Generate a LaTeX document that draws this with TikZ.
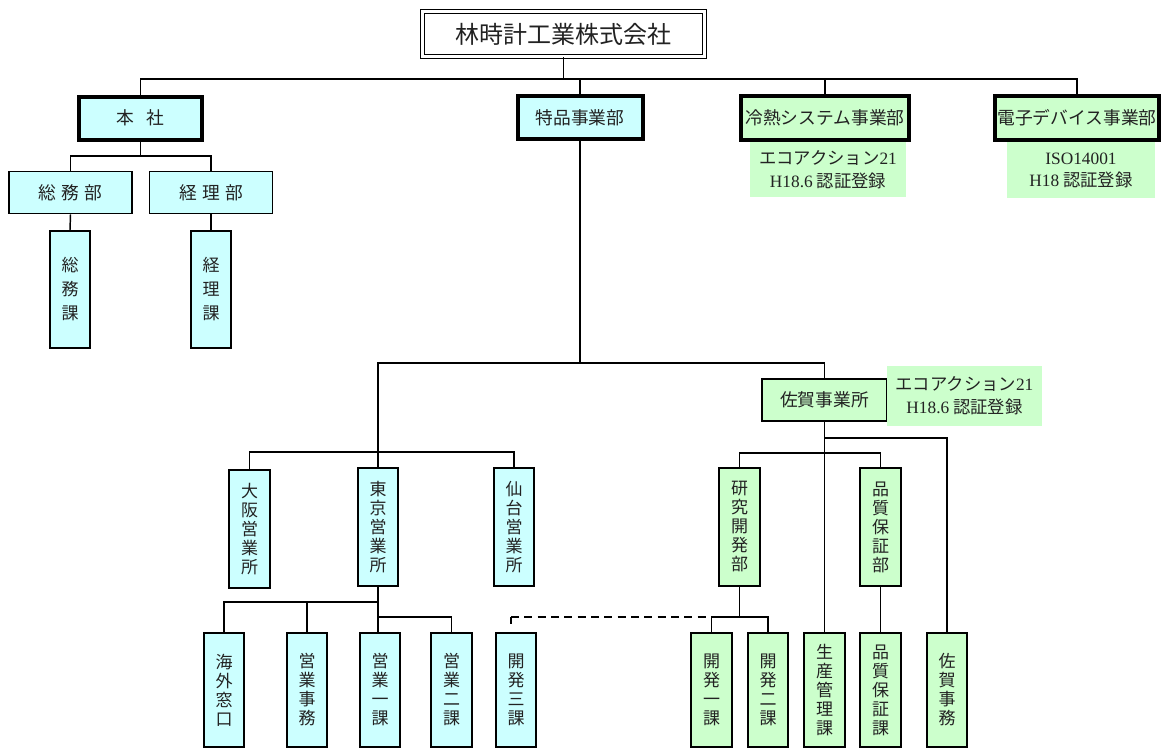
\documentclass[tikz,border=0pt]{standalone}
\usepackage{fontspec}
\setmainfont{Noto Sans CJK JP}
\newfontfamily\latinserif{Liberation Serif}
\definecolor{cyanfill}{HTML}{CCFFFF}
\definecolor{greenfill}{HTML}{CCFFCC}
\definecolor{txt}{HTML}{222222}
\begin{document}
\begin{tikzpicture}[x=0.75pt,y=-0.75pt,
  sz/.style 2 args={minimum width=#1*0.75pt, minimum height=#2*0.75pt},
  box/.style={draw, line width=1.2pt, inner sep=0pt, text=txt},
  cbox/.style={box, fill=cyanfill},
  gbox/.style={box, fill=greenfill},
  thk/.style={line width=3pt},
  hfont/.style={font=\fontsize{13.3pt}{16pt}\selectfont},
  vtext/.style={align=center, font=\fontsize{12.75pt}{14.25pt}\selectfont},
  vtextwide/.style={align=center, font=\fontsize{12.75pt}{18pt}\selectfont},
  note/.style={fill=greenfill, inner sep=0pt, align=center, text=txt, font=\fontsize{13pt}{17pt}\selectfont},
  conn/.style={draw=black, line width=1.1pt},
  dconn/.style={conn, dash pattern=on 6pt off 4pt}
]
\useasboundingbox (0,0) rectangle (1168,751);

% top
\node[draw=black, line width=0.9pt, double=white, double distance=1.6pt, inner sep=0pt, sz={282}{45}, text=txt, font=\fontsize{18pt}{20pt}\selectfont] (top) at (563.5,34) {林時計工業株式会社};

% level 1
\node[cbox, thk, sz={123}{43}, hfont] (honsha) at (140.5,118) {本\hspace{9pt}社};
\node[cbox, thk, sz={125}{43}, hfont] (tokuhin) at (580,117.5) {特品事業部};
\node[gbox, thk, sz={168}{44}, hfont] (reinetsu) at (825,117.5) {冷熱システム事業部};
\node[gbox, thk, sz={164}{44}, hfont] (denshi) at (1077,117.5) {電子デバイス事業部};

\node[note, sz={156}{55}, anchor=north] (note1) at (828,142) {エコアクション{\latinserif 21}\\{\latinserif H18.6} 認証登録};
\node[note, sz={148}{56}, anchor=north] (note2) at (1081,142) {{\latinserif ISO14001}\\{\latinserif H18} 認証登録};

% honsha children
\node[cbox, sz={123}{42}, hfont] (soumubu) at (70.5,192.5) {総\hspace{4pt}務\hspace{4pt}部};
\node[cbox, sz={123}{42}, hfont] (keiribu) at (211,192.5) {経\hspace{4pt}理\hspace{4pt}部};
\node[cbox, sz={40}{117}, vtextwide] (soumuka) at (70,289.5) {総\\務\\課};
\node[cbox, sz={40}{117}, vtextwide] (keirika) at (211,289.5) {経\\理\\課};

% tokuhin children
\node[cbox, sz={41}{118}, vtext] (osaka) at (249.5,529) {大\\阪\\営\\業\\所};
\node[cbox, sz={40}{118}, vtext] (tokyo) at (378,527) {東\\京\\営\\業\\所};
\node[cbox, sz={40}{118}, vtext] (sendai) at (514,527) {仙\\台\\営\\業\\所};
\node[gbox, sz={125}{42}, hfont] (saga) at (824.5,400) {佐賀事業所};
\node[note, sz={155}{60}] (note3) at (964.5,396) {エコアクション{\latinserif 21}\\{\latinserif H18.6} 認証登録};
\node[gbox, sz={41}{118}, vtext] (kenkyu) at (739.5,527) {研\\究\\開\\発\\部};
\node[gbox, sz={41}{118}, vtext] (hinshitsubu) at (880.5,527) {品\\質\\保\\証\\部};

% bottom row
\node[cbox, sz={40}{114}, vtext] (kaigai) at (224,690) {海\\外\\窓\\口};
\node[cbox, sz={40}{114}, vtext] (jimu) at (307,690) {営\\業\\事\\務};
\node[cbox, sz={40}{114}, vtext] (eigyo1) at (380,690) {営\\業\\一\\課};
\node[cbox, sz={41}{114}, vtext] (eigyo2) at (451.5,690) {営\\業\\二\\課};
\node[cbox, sz={40}{114}, vtext] (kaihatsu3) at (516,690) {開\\発\\三\\課};
\node[gbox, sz={41}{114}, vtext] (kaihatsu1) at (711.5,690) {開\\発\\一\\課};
\node[gbox, sz={40}{114}, vtext] (kaihatsu2) at (768,690) {開\\発\\二\\課};
\node[gbox, sz={41}{114}, vtext] (seisan) at (824.5,690) {生\\産\\管\\理\\課};
\node[gbox, sz={41}{114}, vtext] (hinshitsuka) at (880.5,690) {品\\質\\保\\証\\課};
\node[gbox, sz={40}{114}, vtext] (sagajimu) at (947,690) {佐\\賀\\事\\務};

% bus coordinates
\coordinate (b1) at (0,79);
\coordinate (b2) at (0,156);
\coordinate (b3) at (0,363);
\coordinate (b4) at (0,452);
\coordinate (b5) at (0,602);
\coordinate (b6) at (0,617);
\coordinate (b7) at (0,438);
\coordinate (b8) at (0,453);
\coordinate (dcorner) at ([xshift=-3.75pt]kaihatsu3.north |- b6);
\coordinate (dtick) at ([yshift=6pt]kaihatsu3.north);

% connectors
\draw[conn] (top.south) -- (top.south |- b1);
\draw[conn] (honsha.north) -- (honsha.north |- b1) -- (denshi.north |- b1) -- (denshi.north);
\draw[conn] (tokuhin.north) -- (tokuhin.north |- b1);
\draw[conn] (reinetsu.north) -- (reinetsu.north |- b1);

\draw[conn] (honsha.south) -- (honsha.south |- b2);
\draw[conn] (soumubu.north) -- (soumubu.north |- b2) -- (keiribu.north |- b2) -- (keiribu.north);
\draw[conn] (soumubu.south) -- (soumuka.north);
\draw[conn] (keiribu.south) -- (keirika.north);

\draw[conn] (tokuhin.south) -- (tokuhin.south |- b3);
\draw[conn] (tokyo.north) -- (tokyo.north |- b3) -- (saga.north |- b3) -- (saga.north);
\draw[conn] (osaka.north) -- (osaka.north |- b4) -- (sendai.north |- b4) -- (sendai.north);

\draw[conn] (tokyo.south) -- (tokyo.south |- eigyo1.north);
\draw[conn] (kaigai.north) -- (kaigai.north |- b5) -- (tokyo.south |- b5);
\draw[conn] (jimu.north) -- (jimu.north |- b5);
\draw[conn] (tokyo.south |- b6) -- (eigyo2.north |- b6) -- (eigyo2.north);
\draw[conn] (dcorner) -- (dcorner |- dtick);
\draw[dconn] (dcorner) -- (kaihatsu1.north |- b6);

\draw[conn] (saga.south) -- (seisan.north);
\draw[conn] (saga.south |- b7) -- (sagajimu.north |- b7) -- (sagajimu.north);
\draw[conn] (kenkyu.north) -- (kenkyu.north |- b8) -- (hinshitsubu.north |- b8) -- (hinshitsubu.north);
\draw[conn] (kenkyu.south) -- (kenkyu.south |- b6);
\draw[conn] (kaihatsu1.north) -- (kaihatsu1.north |- b6) -- (kaihatsu2.north |- b6) -- (kaihatsu2.north);
\draw[conn] (hinshitsubu.south) -- (hinshitsuka.north);
\end{tikzpicture}
\end{document}
